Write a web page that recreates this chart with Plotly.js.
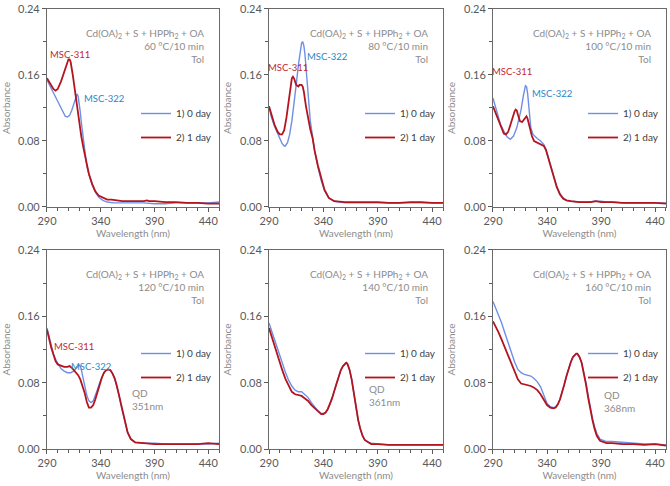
<!DOCTYPE html>
<html><head><meta charset="utf-8">
<script src="https://cdn.plot.ly/plotly-3.0.1.min.js"></script>
<style>html,body{margin:0;padding:0;background:#fff}#chart{width:670px;height:486px}</style>
</head><body><div id="chart"></div>
<script>
// ---- data (wavelength nm, absorbance) ----
const temps = ["60", "80", "100", "120", "140", "160"];
const seriesNames = ["1) 0 day", "2) 1 day"];
const xTickVals = [290, 340, 390, 440];
const yTickVals = [0.00, 0.08, 0.16, 0.24];

const p60_day0_x = [290,293,296,299,302,305,307,309,311,313,315,317,318,319,320,321,322,323,324,325,327,329,332,335,338,342,346,352,360,370,380,390,400,410,420,430,440,450];
const p60_day0_y = [0.154,0.146,0.138,0.130,0.122,0.114,0.110,0.109,0.111,0.117,0.126,0.134,0.137,0.134,0.126,0.115,0.102,0.090,0.078,0.068,0.050,0.040,0.027,0.018,0.012,0.008,0.006,0.005,0.005,0.005,0.005,0.004,0.004,0.005,0.005,0.005,0.005,0.006];
const p60_day1_x = [290,293,296,298,300,303,306,308,310,311,312,314,316,318,320,322,324,326,327,329,332,335,338,342,346,350,355,360,370,380,383,385,390,400,410,420,430,440,450];
const p60_day1_y = [0.156,0.149,0.143,0.141,0.143,0.152,0.164,0.173,0.179,0.179,0.176,0.160,0.140,0.118,0.100,0.085,0.071,0.058,0.051,0.040,0.028,0.019,0.014,0.011,0.009,0.009,0.008,0.007,0.007,0.007,0.008,0.007,0.007,0.006,0.006,0.005,0.005,0.004,0.004];

const p80_day0_x = [290,292,295,298,300,302,304,305,307,309,311,313,315,317,319,320,321,322,323,324,326,328,330,332,335,338,341,345,350,360,370,380,390,400,410,420,430,440,450];
const p80_day0_y = [0.122,0.110,0.098,0.088,0.082,0.077,0.074,0.074,0.078,0.088,0.104,0.124,0.148,0.172,0.192,0.199,0.200,0.196,0.186,0.170,0.130,0.104,0.086,0.068,0.048,0.032,0.020,0.011,0.007,0.005,0.005,0.005,0.005,0.005,0.005,0.005,0.005,0.005,0.005];
const p80_day1_x = [290,292,295,298,300,302,304,306,308,310,311,312,313,315,317,318,320,321,322,324,326,328,330,332,335,338,341,345,350,360,370,380,390,400,410,420,430,440,450];
const p80_day1_y = [0.122,0.112,0.100,0.091,0.088,0.088,0.093,0.108,0.130,0.150,0.156,0.158,0.156,0.148,0.146,0.148,0.148,0.146,0.140,0.122,0.107,0.094,0.084,0.068,0.050,0.034,0.021,0.011,0.007,0.006,0.006,0.006,0.006,0.005,0.005,0.006,0.006,0.005,0.005];

const p100_day0_x = [290,292,294,297,300,303,306,309,312,314,316,318,319,320,321,322,323,324,325,327,329,331,334,337,339,341,343,345,347,349,352,355,358,362,370,380,385,390,395,400,410,420,430,440,450];
const p100_day0_y = [0.132,0.122,0.112,0.100,0.092,0.085,0.082,0.086,0.096,0.106,0.118,0.134,0.142,0.147,0.146,0.138,0.124,0.108,0.096,0.088,0.085,0.083,0.080,0.076,0.070,0.061,0.052,0.043,0.034,0.025,0.016,0.011,0.008,0.007,0.006,0.006,0.007,0.007,0.006,0.006,0.005,0.005,0.005,0.005,0.005];
const p100_day1_x = [290,292,295,298,300,302,304,306,308,310,311,312,313,315,317,318,320,321,322,324,326,328,331,334,337,339,341,343,345,347,349,352,355,358,362,370,380,385,390,395,400,410,420,430,440,450];
const p100_day1_y = [0.122,0.115,0.104,0.094,0.089,0.088,0.091,0.099,0.108,0.116,0.118,0.117,0.112,0.104,0.103,0.105,0.109,0.110,0.107,0.096,0.086,0.080,0.078,0.077,0.074,0.069,0.060,0.051,0.042,0.033,0.024,0.015,0.010,0.008,0.007,0.006,0.006,0.007,0.006,0.006,0.006,0.005,0.005,0.005,0.005,0.004];

const p120_day0_x = [290,292,294,296,298,300,303,306,309,312,315,317,319,320,321,322,323,325,327,329,331,333,335,337,339,341,343,345,347,349,351,353,355,357,359,361,363,365,368,372,380,390,400,410,420,430,440,450];
const p120_day0_y = [0.146,0.135,0.124,0.115,0.108,0.103,0.097,0.094,0.092,0.092,0.094,0.097,0.100,0.101,0.100,0.096,0.089,0.076,0.065,0.058,0.056,0.058,0.064,0.072,0.080,0.087,0.092,0.095,0.096,0.095,0.091,0.085,0.076,0.065,0.052,0.040,0.030,0.020,0.012,0.008,0.007,0.007,0.006,0.006,0.006,0.006,0.006,0.007];
const p120_day1_x = [290,292,294,296,298,300,303,306,309,311,313,315,317,319,321,323,325,327,329,331,333,335,337,339,341,343,345,347,349,351,353,355,357,359,361,363,365,368,372,380,390,400,410,420,430,440,450];
const p120_day1_y = [0.144,0.132,0.122,0.114,0.106,0.102,0.100,0.099,0.099,0.100,0.098,0.095,0.092,0.089,0.084,0.077,0.068,0.057,0.050,0.050,0.053,0.060,0.069,0.078,0.086,0.092,0.095,0.096,0.095,0.091,0.085,0.076,0.065,0.052,0.040,0.030,0.020,0.012,0.008,0.007,0.006,0.006,0.006,0.006,0.006,0.007,0.006];

const p140_day0_x = [290,293,296,299,302,305,308,311,314,317,320,323,326,329,332,335,338,340,342,344,346,348,350,352,354,356,358,360,361,362,364,366,368,370,372,374,376,378,381,384,390,400,410,420,430,440,450];
const p140_day0_y = [0.152,0.140,0.128,0.117,0.105,0.093,0.083,0.076,0.071,0.069,0.069,0.066,0.062,0.056,0.051,0.046,0.043,0.043,0.044,0.048,0.054,0.061,0.070,0.079,0.088,0.095,0.100,0.103,0.104,0.103,0.096,0.084,0.068,0.050,0.035,0.024,0.016,0.011,0.008,0.007,0.006,0.005,0.005,0.005,0.005,0.005,0.005];
const p140_day1_x = [290,293,296,299,302,305,308,311,314,317,320,323,326,329,332,335,338,340,342,344,346,348,350,352,354,356,358,360,361,362,364,366,368,370,372,374,376,378,381,384,390,400,410,420,430,440,450];
const p140_day1_y = [0.146,0.133,0.120,0.108,0.096,0.085,0.076,0.069,0.066,0.065,0.064,0.061,0.058,0.053,0.049,0.045,0.042,0.042,0.044,0.048,0.054,0.061,0.070,0.079,0.088,0.095,0.100,0.103,0.104,0.103,0.096,0.084,0.068,0.050,0.035,0.024,0.016,0.011,0.008,0.006,0.006,0.005,0.005,0.005,0.005,0.005,0.005];

const p160_day0_x = [290,292,295,298,301,304,307,310,313,316,319,322,325,328,331,334,336,338,340,343,346,348,350,352,354,356,358,360,362,364,366,367,368,370,372,374,376,378,380,382,384,386,389,392,395,400,410,420,430,440,450];
const p160_day0_y = [0.178,0.172,0.163,0.152,0.140,0.128,0.116,0.105,0.096,0.092,0.090,0.089,0.088,0.085,0.081,0.075,0.069,0.061,0.055,0.051,0.050,0.051,0.054,0.060,0.068,0.078,0.088,0.097,0.105,0.111,0.114,0.115,0.115,0.111,0.104,0.093,0.080,0.065,0.050,0.037,0.027,0.019,0.012,0.010,0.009,0.009,0.008,0.007,0.006,0.006,0.005];
const p160_day1_x = [290,292,295,298,301,304,307,310,313,316,319,322,325,328,331,334,336,338,340,343,346,348,350,352,354,356,358,360,362,364,366,367,368,370,372,374,376,378,380,382,384,386,389,392,395,400,410,420,430,440,450];
const p160_day1_y = [0.154,0.149,0.141,0.132,0.122,0.112,0.102,0.093,0.084,0.079,0.078,0.077,0.076,0.074,0.071,0.066,0.062,0.057,0.053,0.050,0.049,0.050,0.054,0.060,0.068,0.078,0.088,0.097,0.105,0.111,0.114,0.115,0.115,0.111,0.104,0.092,0.078,0.062,0.047,0.035,0.024,0.016,0.010,0.008,0.007,0.007,0.006,0.006,0.005,0.006,0.004];

const day0X = [p60_day0_x, p80_day0_x, p100_day0_x, p120_day0_x, p140_day0_x, p160_day0_x];
const day0Y = [p60_day0_y, p80_day0_y, p100_day0_y, p120_day0_y, p140_day0_y, p160_day0_y];
const day1X = [p60_day1_x, p80_day1_x, p100_day1_x, p120_day1_x, p140_day1_x, p160_day1_x];
const day1Y = [p60_day1_y, p80_day1_y, p100_day1_y, p120_day1_y, p140_day1_y, p160_day1_y];

// peak labels: [panel index, text, x(nm), y(abs), kind]
const peakLabels = [
  [0, "MSC-311", 311.5, 0.185, "r"], [0, "MSC-322", 343, 0.131, "b"],
  [1, "MSC-311", 307.5, 0.169, "r"], [1, "MSC-322", 343.5, 0.183, "b"],
  [2, "MSC-311", 307.6, 0.164, "r"], [2, "MSC-322", 344.6, 0.138, "b"],
  [3, "MSC-311", 314.8, 0.124, "r"], [3, "MSC-322", 331.4, 0.100, "b"]
];
const qdLabels = [[3, "QD<br>351nm", 367, 0.060], [4, "QD<br>361nm", 380, 0.065], [5, "QD<br>368nm", 390.5, 0.057]];

// ---- styling / layout ----
const FONT = "Lato, 'Open Sans', sans-serif";
const BLUE = "#6e8fe6", RED = "#b3141e";
const colDom = [[0.0701, 0.3269], [0.4015, 0.6612], [0.7358, 0.9940]];
const rowDom = [[0.5741, 0.9815], [0.0761, 0.4856]];
const data = [], annotations = [];
const layout = {
  width: 670, height: 486, margin: {l: 0, r: 0, t: 0, b: 0},
  paper_bgcolor: "#fff", plot_bgcolor: "#fff",
  font: {family: FONT, size: 11, color: "#595959"},
  annotations: annotations
};
for (let i = 0; i < 6; i++) {
  const s = i === 0 ? "" : String(i + 1);
  const col = i % 3, row = Math.floor(i / 3);
  const legName = "legend" + s;
  data.push({x: day0X[i], y: day0Y[i], xaxis: "x" + s, yaxis: "y" + s, type: "scatter", mode: "lines",
    name: seriesNames[0], legend: legName, legendgroup: "a" + i, line: {color: BLUE, width: 1.4}});
  data.push({x: day1X[i], y: day1Y[i], xaxis: "x" + s, yaxis: "y" + s, type: "scatter", mode: "lines",
    name: seriesNames[1], legend: legName, legendgroup: "b" + i, line: {color: RED, width: 1.8}});
  layout["xaxis" + s] = {
    domain: colDom[col], anchor: "y" + s, range: [290, 450], tickvals: xTickVals,
    ticks: "outside", ticklen: 4, tickcolor: "#595959",
    minor: {dtick: 10, tick0: 290, ticks: "outside", ticklen: 3, tickcolor: "#595959"},
    showline: true, linecolor: "#6a6a6a", linewidth: 1, mirror: true,
    showgrid: false, zeroline: false,
    tickfont: {family: FONT, size: 11, color: "#595959"},
    title: {text: "Wavelength (nm)", font: {family: FONT, size: 10, color: "#8c8c8c"}, standoff: 0}
  };
  layout["yaxis" + s] = {
    domain: rowDom[row], anchor: "x" + s, range: [0, 0.24], tickvals: yTickVals, tickformat: ".2f",
    ticks: "outside", ticklen: 4, tickcolor: "#595959",
    minor: {dtick: 0.04, tick0: 0, ticks: "outside", ticklen: 3, tickcolor: "#595959"},
    showline: true, linecolor: "#6a6a6a", linewidth: 1, mirror: true,
    showgrid: false, zeroline: false,
    tickfont: {family: FONT, size: 11, color: "#595959"},
    title: {text: "Absorbance", font: {family: FONT, size: 10, color: "#8c8c8c"}, standoff: 6}
  };
  const legTop = row === 0 ? 99 : 339;
  layout[legName] = {
    x: colDom[col][1] - 83 / 670, xanchor: "left", y: 1 - legTop / 486, yanchor: "top",
    bgcolor: "rgba(0,0,0,0)", font: {family: FONT, size: 10, color: "#404040"},
    traceorder: "grouped", tracegroupgap: 5
  };
  annotations.push({
    xref: "x" + s + " domain", yref: "y" + s + " domain", x: 0.925, y: row === 0 ? 0.918 : 0.922,
    xanchor: "right", yanchor: "top", align: "right", showarrow: false,
    text: "Cd(OA)<sub>2</sub> + S + HPPh<sub>2</sub> + OA<br>" + temps[i] + " °C/10 min<br>Tol",
    font: {family: FONT, size: 10, color: "#8c8c8c"}
  });
}
peakLabels.forEach(p => {
  const s = p[0] === 0 ? "" : String(p[0] + 1);
  annotations.push({xref: "x" + s, yref: "y" + s, x: p[2], y: p[3], text: p[1], showarrow: false,
    xanchor: "center", yanchor: "middle",
    font: {family: FONT, size: 9.5, color: p[4] === "r" ? "#c0282d" : "#2a86c8"}});
});
qdLabels.forEach(p => {
  const s = p[0] === 0 ? "" : String(p[0] + 1);
  annotations.push({xref: "x" + s, yref: "y" + s, x: p[2], y: p[3], text: p[1], showarrow: false,
    xanchor: "left", yanchor: "middle", align: "left",
    font: {family: FONT, size: 10, color: "#8c8c8c"}});
});
Plotly.newPlot("chart", data, layout, {displayModeBar: false, staticPlot: true});
</script></body></html>
